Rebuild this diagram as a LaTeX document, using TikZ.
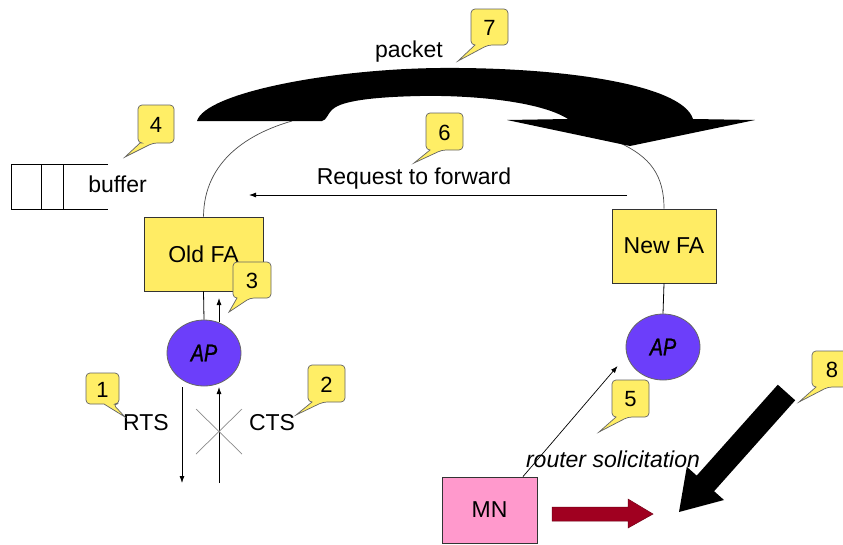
\documentclass[tikz,border=0pt]{standalone}
\usepackage{fontspec}
\setmainfont{Liberation Sans}
\usetikzlibrary{shapes.geometric,arrows.meta}

\definecolor{balloonyellow}{RGB}{255,238,102}
\definecolor{fayellow}{RGB}{255,236,100}
\definecolor{appurple}{RGB}{108,62,250}
\definecolor{mnpink}{RGB}{255,153,204}
\definecolor{darkred}{RGB}{160,0,32}
\definecolor{edgegrey}{RGB}{100,100,100}

\tikzset{
  lbl/.style={font=\fontsize{23}{27}\selectfont, inner sep=0pt},
  fabox/.style={draw=black!80, line width=0.9pt, fill=fayellow, inner sep=0pt,
                font=\fontsize{23}{27}\selectfont},
  apnode/.style={ellipse, draw=black!60, line width=0.8pt, fill=appurple,
                 minimum width=74pt, minimum height=66pt, inner sep=0pt,
                 font=\fontsize{22}{26}\selectfont\itshape\addfontfeature{FakeBold=1.2}},
  balloonshape/.style={fill=balloonyellow, draw=edgegrey, line width=0.7pt,
                       rounded corners=4pt},
  numtext/.style={font=\fontsize{22}{26}\selectfont, inner sep=0pt},
  thin/.style={line width=0.8pt},
  tip/.style={-{Latex[length=7pt,width=5pt]}},
}

% speech balloon: name, x1, y1, x2, y2, tail base left, tail base right, tail tip, number
\newcommand\balloon[9]{%
  \path[balloonshape] (#2,#3) -- (#4,#3) -- (#4,#5) -- (#7,#5)
     [sharp corners] -- #8 -- (#6,#5) [rounded corners=4pt] -- (#2,#5) -- cycle;
  \node[numtext] (#1) at ({(#2+#4)/2},{(#3+#5)/2+1}) {#9};
}

\begin{document}
\begin{tikzpicture}[x=1pt,y=-1pt]
\clip (0,0) rectangle (843,544);
\fill[white] (0,0) rectangle (843,544);

% --- buffer queue
\draw[thin] (108,164) -- (11,164) -- (11,209) -- (108,209);
\draw[thin] (41,164) -- (41,209);
\draw[thin] (63,164) -- (63,209);
\node[lbl] (buf) at (117.5,184) {buffer};

% --- foreign agents and access points
\node[fabox, minimum width=119pt, minimum height=74pt] (oldfa) at (203.5,254) {Old FA};
\node[fabox, minimum width=104pt, minimum height=74pt] (newfa) at (664,246) {New FA};
\node[apnode] (apold) at (204,353) {\scalebox{0.9}[1.1]{AP}};
\node[apnode] (apnew) at (663,347) {\scalebox{0.9}[1.1]{AP}};
\node[draw=black!80, line width=0.9pt, fill=mnpink, minimum width=95pt,
      minimum height=66pt, inner sep=0pt, font=\fontsize{23}{27}\selectfont]
      (mn) at (489.5,510) {MN};

\draw[thin] (oldfa.south) -- (apold.north);
\draw[thin] (newfa.south) -- (apnew.north);

% --- links from the FAs up to the packet arrow
\coordinate (arcL) at (292,121);
\coordinate (arcR) at (620,143);
\draw[line width=0.7pt, black!70] (oldfa.north) .. controls (204,160) and (250,133) .. (arcL);
\draw[line width=0.7pt, black!70] (newfa.north) .. controls (664,175) and (650,157) .. (arcR);

% --- packet forwarding arrow
\fill[black] (197,121) .. controls (205,93) and (330,69) .. (440,68)
   .. controls (560,67) and (682,84) .. (693,119)
   -- (755,120) -- (630,146) -- (507,120) -- (568,119)
   .. controls (540,101) and (470,95) .. (420,96)
   .. controls (372,97) and (342,101) .. (333,109)
   .. controls (327,114) and (327,120) .. (322,121) -- cycle;
\node[lbl] (packet) at (409,52) {packet};

% --- request to forward
\coordinate (reqR) at (627,195);
\coordinate (reqL) at (249,195);
\draw[thin, tip] (reqR) -- (reqL);
\node[lbl] (req) at (414,179) {Request to forward};

% --- RTS / CTS exchange at the old AP
\coordinate (upA) at (219,322);
\coordinate (upB) at (219,298);
\draw[thin, tip] (upA) -- (upB);
\coordinate (rtsA) at (182,387);
\coordinate (rtsB) at (182,483);
\draw[thin, tip] (rtsA) -- (rtsB);
\coordinate (ctsA) at (219,483);
\coordinate (ctsB) at (219,387);
\draw[thin, tip] (ctsA) -- (ctsB);
\draw[line width=0.7pt, black!45] (196,409) -- (242,454);
\draw[line width=0.7pt, black!45] (242,409) -- (196,454);
\node[lbl] (rts) at (146,423) {RTS};
\node[lbl] (cts) at (272,423) {CTS};

% --- router solicitation from MN
\draw[line width=0.7pt, tip] ([xshift=33.5pt]mn.north) -- ([shift={(-8,19)}]apnew.west);
\node[lbl, font=\fontsize{23}{27}\selectfont\itshape] (rsol) at (613,459) {router solicitation};

% --- movement of the MN
\filldraw[fill=darkred, draw=darkred!70!black, line width=0.5pt]
  (552,507) -- (628,507) -- (628,499) -- (653,514) -- (628,528) -- (628,521) -- (552,521) -- cycle;

% --- handover arrow
\fill[black] (777.8,384.7) -- (696.7,475.6) -- (686.8,466.8) -- (679,512)
  -- (724,500) -- (714.1,491.2) -- (795.2,400.3) -- cycle;

% --- numbered balloons
\balloon{b1}{86}{373}{119}{404}{104}{113}{(125,417)}{1}
\balloon{b2}{308}{365}{345}{402}{312}{323}{(296,415)}{2}
\balloon{b3}{233}{262}{271}{298}{237}{250}{(229,312)}{3}
\balloon{b4}{138}{105}{174}{143}{140}{153}{(125,157)}{4}
\balloon{b5}{612}{380}{649}{417}{616}{628}{(599,432)}{5}
\balloon{b6}{426}{113}{463}{150}{430}{442}{(414,163)}{6}
\balloon{b7}{471}{9}{508}{45}{475}{488}{(458,61)}{7}
\balloon{b8}{812}{351}{852}{387}{816}{828}{(799,402)}{8}
\end{tikzpicture}
\end{document}
